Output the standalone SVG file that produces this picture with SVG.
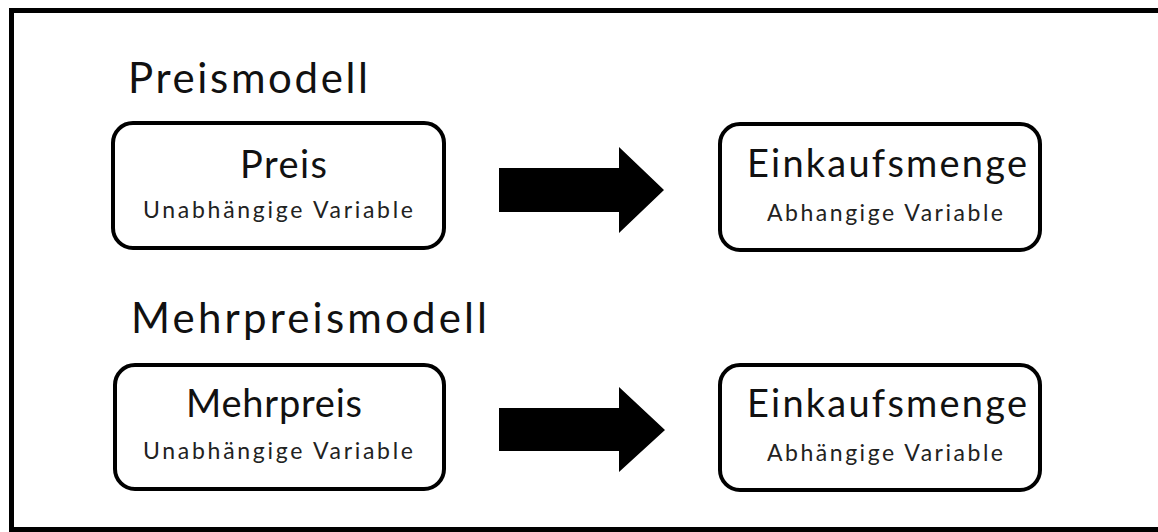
<svg xmlns="http://www.w3.org/2000/svg" width="1158" height="532" viewBox="0 0 1158 532">
<style>
.frame{fill:#fff;stroke:#000;stroke-width:5}
.box{fill:#fff;stroke:#000;stroke-width:4}
.arrow{fill:#000}
.h{font-family:Lato,"Open Sans",sans-serif;font-size:42px;fill:#111}
.t{font-family:Lato,"Open Sans",sans-serif;font-size:38px;fill:#111}
.s{font-family:Lato,"Open Sans",sans-serif;font-size:23px;fill:#222}
</style>
<rect class="frame" x="11.5" y="10.5" width="1160" height="519"/>
<text class="h" x="128" y="93" textLength="240">Preismodell</text>
<text class="h" x="131" y="333" textLength="356">Mehrpreismodell</text>
<g id="node-preis">
<rect class="box" x="113" y="123" width="331" height="125" rx="20"/>
<text class="t" x="240" y="178" textLength="87">Preis</text>
<text class="s" x="143" y="218" textLength="270">Unabhängige Variable</text>
</g>
<g id="node-einkauf1">
<rect class="box" x="720" y="124" width="320" height="126" rx="20"/>
<text class="t" x="747" y="177" textLength="280">Einkaufsmenge</text>
<text class="s" x="767" y="221" textLength="236">Abhangige Variable</text>
</g>
<g id="node-mehrpreis">
<rect class="box" x="115" y="365" width="329" height="124" rx="20"/>
<text class="t" x="186" y="417" textLength="176">Mehrpreis</text>
<text class="s" x="143" y="459" textLength="270">Unabhängige Variable</text>
</g>
<g id="node-einkauf2">
<rect class="box" x="720" y="365" width="320" height="125" rx="20"/>
<text class="t" x="747" y="417" textLength="280">Einkaufsmenge</text>
<text class="s" x="767" y="461" textLength="236">Abhängige Variable</text>
</g>
<g id="connectors">
<polygon class="arrow" points="499,168 619,168 619,147 664,190 619,233 619,212 499,212"/>
<polygon class="arrow" points="499,408 619,408 619,387 665,430 619,472 619,451 499,451"/>
</g>
</svg>
